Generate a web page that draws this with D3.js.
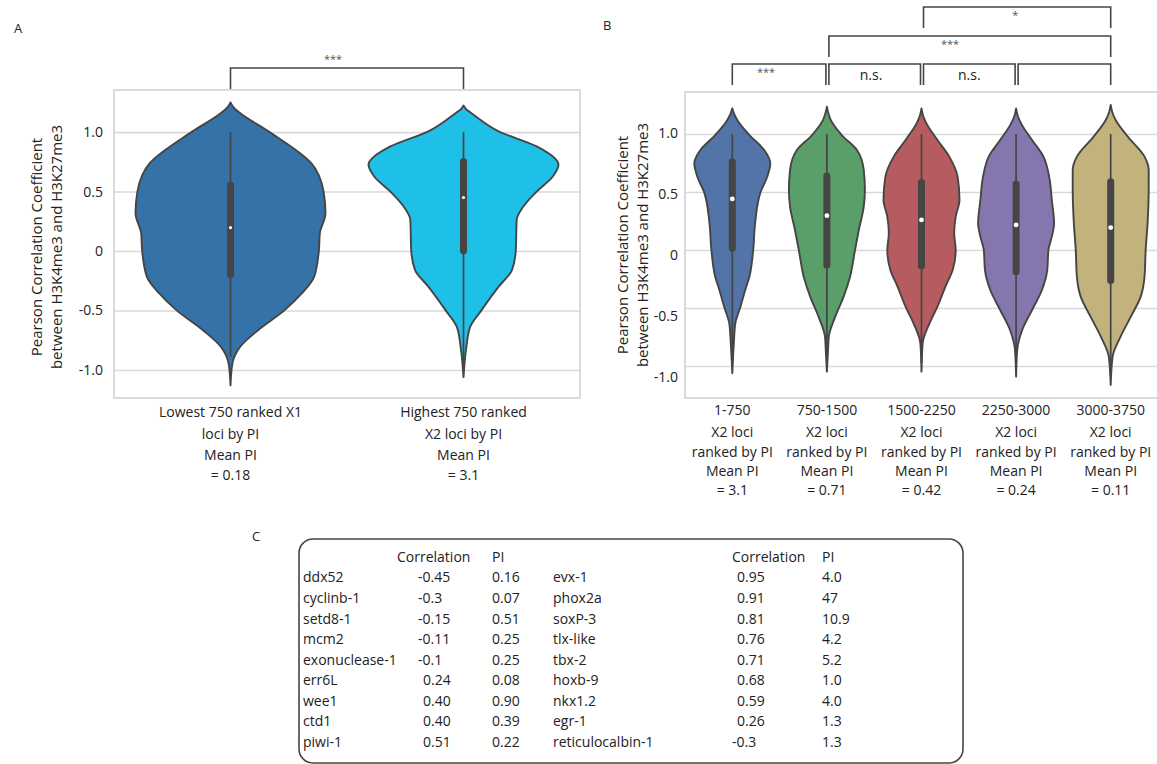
<!DOCTYPE html>
<html>
<head>
<meta charset="utf-8">
<script src="https://cdn.jsdelivr.net/npm/d3@7"></script>
<style>
  body { margin: 0; background: #fff; }
  svg { font-family: "Open Sans", sans-serif; }
</style>
</head>
<body>
<svg id="fig" width="1157" height="764"></svg>
<script>
// ---- data ----
const yTicks = [1, 0.5, 0, -0.5, -1]
const yTickLabels = ["1.0", "0.5", "0", "-0.5", "-1.0"]
const yTitle = ["Pearson Correlation Coefficient", "between H3K4me3 and H3K27me3"]

// panel A
const groupsA = ["low750X1", "high750X2"]
const xLabelsA = [
    ["Lowest 750 ranked X1", "loci by PI", "Mean PI", "= 0.18"],
    ["Highest 750 ranked", "X2 loci by PI", "Mean PI", "= 3.1"]
]
const colorsA = ["#3572a8", "#1fc0e7"]
// [value, relative density]
const densityA = [
    [[1.25, 0], [1.21, 0.03], [1.16, 0.1], [1.006, 0.4], [0.739, 0.85], [0.5, 0.98], [0.318, 1.0], [0.149, 0.94],
     [0, 0.93], [-0.217, 0.88], [-0.357, 0.75], [-0.497, 0.57], [-0.666, 0.29], [-0.807, 0.1], [-0.947, 0.02], [-1.13, 0]],
    [[1.223, 0], [1.19, 0.03], [1.161, 0.08], [1.006, 0.37], [0.88, 0.77], [0.725, 1.0], [0.627, 0.94], [0.5, 0.77],
     [0.374, 0.63], [0.262, 0.56], [0, 0.55], [-0.16, 0.51], [-0.3, 0.37], [-0.497, 0.19], [-0.638, 0.07], [-0.807, 0.03], [-1.06, 0]]
]
// [low whisker, q1, median, q3, high whisker]
const boxesA = [
    [-0.89, -0.2, 0.196, 0.556, 1.0],
    [-0.98, 0.003, 0.45, 0.753, 1.0]
]
const sigA = [{ from: 0, to: 1, label: "***", level: 0, at: 0.44 }]

// panel B
const groupsB = ["1-750", "750-1500", "1500-2250", "2250-3000", "3000-3750"]
const meanPIB = ["3.1", "0.71", "0.42", "0.24", "0.11"]
const colorsB = ["#5274a8", "#5a9e6a", "#b65b5f", "#8577ad", "#c2b27b"]
const densityB = [
    [[1.221, 0], [1.18, 0.04], [1.121, 0.13], [0.991, 0.45], [0.862, 0.84], [0.747, 1.0], [0.632, 0.92], [0.497, 0.74],
     [0.23, 0.6], [0, 0.55], [-0.23, 0.45], [-0.345, 0.34], [-0.494, 0.21], [-0.632, 0.08], [-0.805, 0.04], [-1.063, 0]],
    [[1.236, 0], [1.19, 0.03], [1.121, 0.1], [0.991, 0.39], [0.862, 0.79], [0.69, 0.97], [0.517, 1.0], [0.374, 0.97],
     [0.172, 0.84], [0, 0.74], [-0.23, 0.61], [-0.402, 0.44], [-0.575, 0.22], [-0.747, 0.05], [-0.862, 0.03], [-1.049, 0]],
    [[1.221, 0], [1.16, 0.04], [1.092, 0.13], [0.948, 0.42], [0.805, 0.73], [0.632, 0.95], [0.431, 1.0], [0.287, 0.9],
     [0.144, 0.86], [0, 0.9], [-0.172, 0.82], [-0.316, 0.63], [-0.489, 0.42], [-0.632, 0.21], [-0.805, 0.03], [-1.049, 0]],
    [[1.221, 0], [1.16, 0.04], [1.092, 0.13], [0.948, 0.42], [0.805, 0.72], [0.632, 0.87], [0.431, 0.94], [0.23, 1.0],
     [0.115, 0.94], [0, 0.85], [-0.172, 0.82], [-0.345, 0.68], [-0.517, 0.42], [-0.69, 0.16], [-0.862, 0.03], [-1.092, 0]],
    [[1.25, 0], [1.19, 0.04], [1.121, 0.13], [0.977, 0.45], [0.805, 0.89], [0.69, 1.0], [0.517, 1.0], [0.23, 0.97],
     [0, 0.92], [-0.23, 0.89], [-0.402, 0.79], [-0.575, 0.53], [-0.747, 0.26], [-0.92, 0.05], [-1.164, 0]]
]
const boxesB = [
    [-1.0, 0.014, 0.44, 0.761, 1.0],
    [-0.98, -0.129, 0.296, 0.638, 1.0],
    [-0.98, -0.138, 0.259, 0.581, 1.0],
    [-1.0, -0.187, 0.216, 0.569, 1.0],
    [-1.07, -0.264, 0.193, 0.589, 1.0]
]
const sigB = [
    { from: 0, to: 1, label: "***", level: 0, at: 0.36 },
    { from: 1, to: 2, label: "n.s.", level: 0, at: 0.46 },
    { from: 2, to: 3, label: "n.s.", level: 0, at: 0.5 },
    { from: 3, to: 4, label: "", level: 0, at: 0.5 },
    { from: 1, to: 4, label: "***", level: 1, at: 0.43 },
    { from: 2, to: 4, label: "*", level: 2, at: 0.49 }
]

// panel C table
const tableHeader = ["Correlation", "PI"]
const genesLeft = ["ddx52", "cyclinb-1", "setd8-1", "mcm2", "exonuclease-1", "err6L", "wee1", "ctd1", "piwi-1"]
const corrLeft = ["-0.45", "-0.3", "-0.15", "-0.11", "-0.1", "0.24", "0.40", "0.40", "0.51"]
const piLeft = ["0.16", "0.07", "0.51", "0.25", "0.25", "0.08", "0.90", "0.39", "0.22"]
const genesRight = ["evx-1", "phox2a", "soxP-3", "tlx-like", "tbx-2", "hoxb-9", "nkx1.2", "egr-1", "reticulocalbin-1"]
const corrRight = ["0.95", "0.91", "0.81", "0.76", "0.71", "0.68", "0.59", "0.26", "-0.3"]
const piRight = ["4.0", "47", "10.9", "4.2", "5.2", "1.0", "4.0", "1.3", "1.3"]


const svg = d3.select("#fig")
const ink = "#454545"

function drawViolinPanel(cfg) {
    const g = svg.append("g")
    const x = d3.scaleBand().domain(cfg.groups).range([cfg.left, cfg.right])
    const y = d3.scaleLinear().domain(cfg.domain).range([cfg.bottom, cfg.top])
    const w = d3.scaleLinear().domain([0, 1]).range([0, cfg.maxHalf])
    const cx = i => x(cfg.groups[i]) + x.bandwidth() / 2

    // gridlines
    g.append("g")
        .attr("transform", `translate(${cfg.left},0)`)
        .call(d3.axisLeft(y).tickValues(yTicks).tickSize(-(cfg.right - cfg.left)).tickFormat(""))
        .call(a => a.select(".domain").remove())
        .selectAll("line").attr("stroke", "#d9d9d9").attr("stroke-width", 1.6)

    // frame
    g.append("rect")
        .attr("x", cfg.left).attr("y", cfg.top)
        .attr("width", cfg.right - cfg.left).attr("height", cfg.bottom - cfg.top)
        .attr("fill", "none").attr("stroke", "#d2d2d2").attr("stroke-width", 1.6)

    // tick labels (panel B labels sit on a slightly stretched scale in the original)
    const yl = cfg.labelRange ? d3.scaleLinear().domain([1, -1]).range(cfg.labelRange) : y
    g.append("g")
        .attr("transform", `translate(${cfg.left - cfg.tickPad},0)`)
        .call(d3.axisLeft(yl).tickValues(yTicks).tickSize(0).tickPadding(0)
            .tickFormat((d, i) => yTickLabels[i]))
        .call(a => a.select(".domain").remove())
        .selectAll("text")
        .attr("font-family", "Open Sans").attr("font-size", 14).attr("fill", "#222")

    // y title
    yTitle.forEach((t, i) => {
        g.append("text")
            .attr("transform", `translate(${cfg.titleX + i * 20},${cfg.titleY}) rotate(-90)`)
            .attr("text-anchor", "middle").attr("dy", "0.35em")
            .attr("font-size", 15).attr("fill", "#222")
            .text(t)
    })

    // violins
    cfg.density.forEach((dens, i) => {
        const c = cx(i)
        const area = d3.area()
            .curve(d3.curveMonotoneY)
            .y(d => y(d[0]))
            .x0(d => c - w(d[1]))
            .x1(d => c + w(d[1]))
        g.append("path")
            .attr("d", area(dens))
            .attr("fill", cfg.colors[i])
            .attr("stroke", ink).attr("stroke-width", 1.9)
            .attr("stroke-linejoin", "round")

        const [lo, q1, med, q3, hi] = cfg.boxes[i]
        g.append("line")
            .attr("x1", c).attr("x2", c).attr("y1", y(hi)).attr("y2", y(lo))
            .attr("stroke", ink).attr("stroke-width", 1.7)
        g.append("line")
            .attr("x1", c).attr("x2", c).attr("y1", y(q3)).attr("y2", y(q1))
            .attr("stroke", ink).attr("stroke-width", 7).attr("stroke-linecap", "round")
        g.append("circle")
            .attr("cx", c).attr("cy", y(med)).attr("r", cfg.dotR)
            .attr("fill", "#fff")
    })

    // category labels
    cfg.xLabels.forEach((lines, i) => {
        lines.forEach((t, k) => {
            g.append("text")
                .attr("x", cx(i)).attr("y", cfg.labelY[k])
                .attr("text-anchor", "middle").attr("dy", "0.35em")
                .attr("font-size", 14).attr("fill", "#222")
                .text(t)
        })
    })

    // significance brackets
    cfg.sig.forEach(s => {
        const yTop = cfg.bracketY[s.level]
        const x1 = cx(s.from) + (s.from > 0 ? 2 : 0)
        const x2 = cx(s.to) - (s.to < cfg.groups.length - 1 ? 1 : 0)
        g.append("path")
            .attr("d", d3.line()([[x1, yTop + cfg.bracketDrop], [x1, yTop], [x2, yTop], [x2, yTop + cfg.bracketDrop]]))
            .attr("fill", "none").attr("stroke", ink).attr("stroke-width", 1.6)
        if (s.label) {
            const star = s.label.includes("*")
            g.append("text")
                .attr("x", x1 + (x2 - x1) * s.at)
                .attr("y", yTop + (star ? (s.level === cfg.sigTextAbove ? -9 : 8) : 11))
                .attr("text-anchor", "middle").attr("dy", "0.35em")
                .attr("font-size", star ? 11 : 14)
                .attr("fill", star ? "#555" : "#222")
                .text(s.label)
        }
    })
}

drawViolinPanel({
    groups: groupsA, density: densityA, boxes: boxesA, colors: colorsA, xLabels: xLabelsA, sig: sigA,
    left: 114, right: 580, top: 90, bottom: 398, domain: [-1.236, 1.354], maxHalf: 95,
    tickPad: 11, titleX: 37, titleY: 247, dotR: 1.6,
    labelY: [412, 434, 455, 475],
    bracketY: [68], bracketDrop: 21, sigTextAbove: 0
})

drawViolinPanel({
    groups: groupsB, density: densityB, boxes: boxesB, colors: colorsB, sig: sigB,
    xLabels: groupsB.map((gr, i) => [gr, "X2 loci", "ranked by PI", "Mean PI", "= " + meanPIB[i]]),
    left: 685, right: 1158, top: 92, bottom: 398, domain: [-1.276, 1.362], maxHalf: 38,
    labelRange: [133, 377],
    tickPad: 7, titleX: 623, titleY: 245, dotR: 2.4,
    labelY: [410, 432, 452, 471, 490],
    bracketY: [64, 36, 7], bracketDrop: 21, sigTextAbove: -1
})

// panel letters
svg.selectAll("text.panel")
    .data([["A", 14, 28], ["B", 603, 25], ["C", 252, 536]])
    .join("text")
    .attr("class", "panel")
    .attr("x", d => d[1]).attr("y", d => d[2])
    .attr("dy", "0.35em").attr("font-size", 13).attr("fill", "#222")
    .text(d => d[0])

// ---- panel C table ----
const tbl = svg.append("g")
tbl.append("rect")
    .attr("x", 299).attr("y", 539).attr("width", 664).attr("height", 224)
    .attr("rx", 14)
    .attr("fill", "none").attr("stroke", ink).attr("stroke-width", 1.6)

const rowY = d3.scalePoint().domain(d3.range(genesLeft.length + 1)).range([557, 742])

function tableHalf(genes, corr, pi, xName, xCorr, xPI, xHead) {
    tbl.append("text").attr("x", xHead).attr("y", rowY(0)).attr("dy", "0.35em")
        .attr("font-size", 14).attr("fill", "#222").text(tableHeader[0])
    tbl.append("text").attr("x", xPI).attr("y", rowY(0)).attr("dy", "0.35em")
        .attr("font-size", 14).attr("fill", "#222").text(tableHeader[1])
    genes.forEach((gname, i) => {
        const yy = rowY(i + 1)
        tbl.append("text").attr("x", xName).attr("y", yy).attr("dy", "0.35em")
            .attr("font-size", 14).attr("fill", "#222").text(gname)
        tbl.append("text").attr("x", xCorr + (corr[i].startsWith("-") ? 0 : 5)).attr("y", yy).attr("dy", "0.35em")
            .attr("font-size", 14).attr("fill", "#222").text(corr[i])
        tbl.append("text").attr("x", xPI).attr("y", yy).attr("dy", "0.35em")
            .attr("font-size", 14).attr("fill", "#222").text(pi[i])
    })
}
tableHalf(genesLeft, corrLeft, piLeft, 303, 418, 492, 397)
tableHalf(genesRight, corrRight, piRight, 553, 732, 822, 732)
</script>
</body>
</html>
